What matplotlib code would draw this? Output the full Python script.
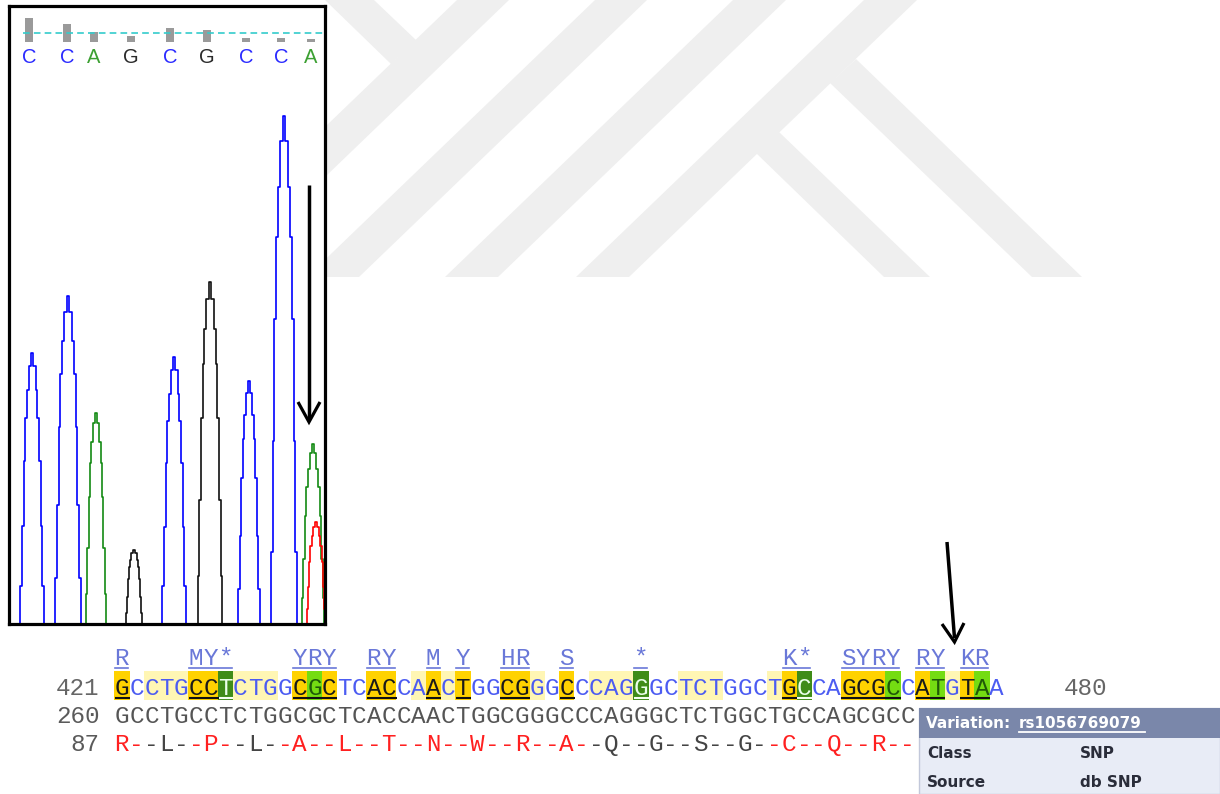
import matplotlib
matplotlib.use("Agg")
import matplotlib.pyplot as plt
from matplotlib.patches import Rectangle, Polygon

# ---- chromatogram data (scan position, signal height) ----
base_calls = ["C", "C", "A", "G", "C", "G", "C", "C", "A"]
base_scan = [20, 58, 85, 122, 161, 198, 237, 272, 302]
base_quality = [24, 18, 10, 6, 14, 12, 4, 4, 3]

peak_channel = ["C", "C", "A", "G", "C", "G", "C", "C", "A", "T"]
peak_scan = [23, 59, 87, 125, 165, 201, 240, 275, 304, 307]
peak_height = [271, 328, 211, 74, 267, 342, 243, 508, 180, 102]
peak_halfwidth = [12.5, 13.5, 11, 9, 12.5, 13, 11.5, 14, 12, 10]

# shape of one peak (offset in half-widths, fraction of height)
profile_offset = [-1, -0.88, -0.74, -0.62, -0.5, -0.36, -0.2, 0, 0.2, 0.36, 0.5, 0.62, 0.74, 0.88, 1]
profile_frac = [0, 0.14, 0.36, 0.6, 0.76, 0.86, 0.95, 1, 0.95, 0.86, 0.76, 0.6, 0.36, 0.14, 0]

# ---- alignment data ----
query_start, query_end = 421, 480
ref_start = 260
prot_start = 87
query_seq = "GCCTGCCTCTGGCGCTCACCAACTGGCGGGCCCAGGGCTCTGGCTGCCAGCGCCATGTAA"
ref_seq = "GCCTGCCTCTGGCGCTCACCAACTGGCGGGCCCAGGGCTCTGGCTGCCAGCGCCATGTAA"
ambiguity = "R    MY*    YRY  RY  M Y  HR  S    *         K*  SYRY RY KR "
# o = gold, y = pale yellow, d = dark green, g = bright green
marks = ("o yyyoodyy" + "y ogo  oo " + "yoyo  ooy " +
         "o yyyd  yy" + "y   yod  o" + "oog ogyog ")
protein = "R--L--P--L--A--L--T--N--W--R--A--Q--G--S--G--C--Q--R--"
protein_col = ("rrk" + "kkr" + "rrk" + "kkr" + "rrr" * 6 + "rrk" +
               "kkk" * 3 + "kkr" + "rrr" * 3)

variation_id = "rs1056769079"
variation_rows = [("Class", "SNP"), ("Source", "db SNP")]

trace_colors = {"C": "#0000ff", "A": "#138a13", "G": "#111111", "T": "#ff0000"}
call_colors = {"C": "#2a2aff", "A": "#3ca032", "G": "#2a2a2a", "T": "#ff0000"}
mark_colors = {"o": "#ffd200", "y": "#fff6b4", "d": "#3f8c18", "g": "#74dc12"}
mark_text = {"o": "#1a1a1a", "y": "#4c5cf2", "d": "#eaffea", "g": "#1f5a08", " ": "#4c5cf2"}

fig = plt.figure(figsize=(12.2, 7.94), dpi=100)
W, H = 1220, 794

# background layer in pixel units
bg = fig.add_axes([0, 0, 1, 1])
bg.set_xlim(0, W)
bg.set_ylim(H, 0)
bg.axis("off")

# faint watermark
wm = "#efefef"
for poly in [
    [(325, 0), (374, 0), (416, 40), (391, 64)],
    [(457, 0), (509, 0), (221, 277), (169, 277)],
    [(595, 0), (647, 0), (359, 277), (307, 277)],
    [(733, 0), (786, 0), (498, 277), (445, 277)],
    [(864, 0), (917, 0), (629, 277), (576, 277)],
    [(856, 59), (1082, 277), (1032, 277), (830, 83)],
    [(779, 132), (930, 277), (884, 277), (756, 153)],
]:
    bg.add_patch(Polygon(poly, closed=True, color=wm, lw=0, zorder=0))

# ---- sequence rows ----
CW = 14.83
X0 = 55
mono = "Liberation Mono"
fs = 17.5
y_ann, y_q, y_r, y_p = 665, 695, 723, 751
tx = 919  # left edge of the tooltip that hides the row ends


def col_left(c):
    return X0 + c * CW


def col_mid(c):
    return X0 + c * CW + CW / 2


# ambiguity codes, underlined per group
ann_col = "#6a78d8"
run_start = None
for i, ch in enumerate(ambiguity + " "):
    c = i + 4
    if ch != " ":
        bg.text(col_mid(c), y_ann, ch, family=mono, fontsize=fs, color=ann_col,
                ha="center", va="baseline", zorder=3)
        if run_start is None:
            run_start = c
    elif run_start is not None:
        bg.plot([col_left(run_start) + 1, col_left(c) - 1], [y_ann + 2.5] * 2,
                color=ann_col, lw=1.2, zorder=3)
        run_start = None

# query row
bg.text(col_left(3), y_q, str(query_start), family=mono, fontsize=fs,
        color="#666666", ha="right", va="baseline")
for i, (ch, m) in enumerate(zip(query_seq, marks)):
    c = i + 4
    if m != " ":
        bg.add_patch(Rectangle((col_left(c), 671), CW + 0.4, 29,
                               color=mark_colors[m], lw=0, zorder=1))
    bg.text(col_mid(c), y_q, ch, family=mono, fontsize=fs, color=mark_text[m],
            ha="center", va="baseline", zorder=3)
    if m in "odg":
        ul = "#f4fff0" if m == "d" else "#111111"
        bg.plot([col_left(c) + 0.5, col_left(c) + CW + 0.5], [y_q + 2.5] * 2,
                color=ul, lw=1.5, zorder=3, solid_capstyle="butt")
bg.text(col_left(4 + len(query_seq) + 4), y_q, str(query_end), family=mono,
        fontsize=fs, color="#666666", ha="left", va="baseline")

# reference row (the tail is hidden by the tooltip)
bg.text(col_left(3), y_r, str(ref_start), family=mono, fontsize=fs,
        color="#5a5a5a", ha="right", va="baseline")
for i, ch in enumerate(ref_seq):
    if col_left(i + 4) + CW > tx:
        break
    bg.text(col_mid(i + 4), y_r, ch, family=mono, fontsize=fs, color="#555555",
            ha="center", va="baseline", zorder=3)

# translation row
bg.text(col_left(3), y_p, str(prot_start), family=mono, fontsize=fs,
        color="#5a5a5a", ha="right", va="baseline")
for i, (ch, k) in enumerate(zip(protein, protein_col)):
    if col_left(i + 4) + CW > tx:
        break
    bg.text(col_mid(i + 4), y_p, ch, family=mono, fontsize=fs,
            color="#ff2020" if k == "r" else "#444444",
            ha="center", va="baseline", zorder=3)

# ---- variation tooltip ----
bg.add_patch(Rectangle((tx, 708), W - tx, H - 708, facecolor="#e8ecf6",
                       edgecolor="#c2c8da", lw=1, zorder=5))
bg.add_patch(Rectangle((tx, 708), W - tx, 30, color="#7a87aa", lw=0, zorder=6))
bg.text(tx + 7, 728, "Variation: ", family="DejaVu Sans", weight="bold",
        fontsize=11, color="white", va="baseline", zorder=7)
bg.text(1019, 728, variation_id, family="DejaVu Sans", weight="bold",
        fontsize=11, color="white", va="baseline", zorder=7)
bg.plot([1019, 1145], [732, 732], color="white", lw=1.3, zorder=7)
for j, (k, v) in enumerate(variation_rows):
    yb = 758 + j * 29
    bg.text(tx + 8, yb, k, family="DejaVu Sans", weight="bold", fontsize=11,
            color="#2a2d3a", va="baseline", zorder=7)
    bg.text(1080, yb, v, family="DejaVu Sans", weight="bold", fontsize=11,
            color="#2a2d3a", va="baseline", zorder=7)

# ---- chromatogram panel ----
ax = fig.add_axes([9 / W, 1 - 623.5 / H, 315.5 / W, 618 / H])
ax.set_facecolor("white")
ax.set_xlim(0, 315.5)
ax.set_ylim(0, 618)
ax.set_xticks([])
ax.set_yticks([])
for s in ax.spines.values():
    s.set_linewidth(2.3)
    s.set_color("black")

for ch, sc, h, hw in zip(peak_channel, peak_scan, peak_height, peak_halfwidth):
    xs = [sc + o * hw for o in profile_offset]
    ys = [h * f for f in profile_frac]
    ax.plot(xs, ys, color=trace_colors[ch], lw=1.2, drawstyle="steps-mid")

ax.bar(base_scan, base_quality, bottom=581.5, width=8, color="#9a9a9a", zorder=2)
ax.axhline(590.5, xmin=14 / 315.5, color="#33cccc", lw=1.2,
           linestyle=(0, (4, 2.5)), zorder=3)
for b, sc in zip(base_calls, base_scan):
    ax.text(sc, 566, b, family="Liberation Sans", fontsize=14.5,
            color=call_colors[b], ha="center", va="center", zorder=4)

# ---- arrows on top ----
top = fig.add_axes([0, 0, 1, 1], zorder=5)
top.set_xlim(0, W)
top.set_ylim(H, 0)
top.axis("off")
top.patch.set_alpha(0)
for shaft, head in [
    (((309, 185), (309, 419)), ((298, 402), (309, 422), (320, 402))),
    (((947, 542), (954.5, 638)), ((942, 624), (954.5, 642), (964, 623))),
]:
    top.plot([p[0] for p in shaft], [p[1] for p in shaft], color="black",
             lw=2.5, solid_capstyle="butt")
    top.plot([p[0] for p in head], [p[1] for p in head], color="black",
             lw=2.3, solid_joinstyle="miter", solid_capstyle="butt")

fig.savefig("out.png", dpi=100)
